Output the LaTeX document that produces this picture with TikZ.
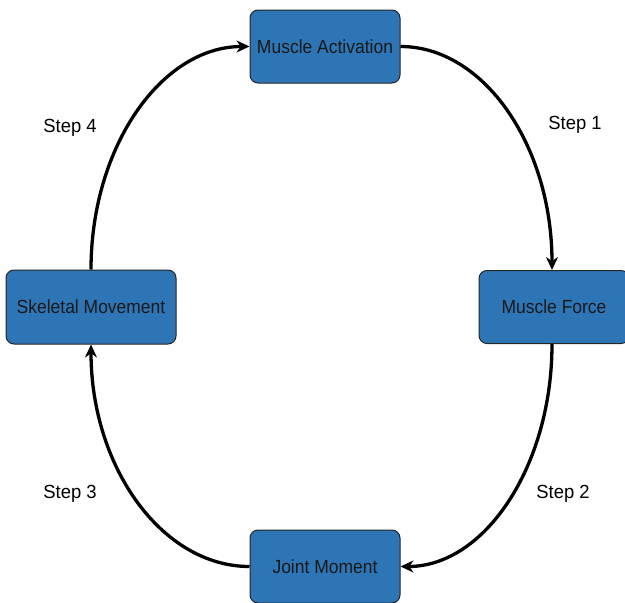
\documentclass[tikz,border=0pt]{standalone}
\usepackage{fontspec}
\setmainfont{Liberation Sans}
\usetikzlibrary{arrows.meta}
\definecolor{boxblue}{HTML}{2E75B6}
\begin{document}
\begin{tikzpicture}[x=1pt,y=-1pt,
  box/.style={draw=black!85, line width=1pt, fill=boxblue, rounded corners=8pt, inner sep=0pt, font=\fontsize{19}{22}\selectfont\addfontfeatures{FakeStretch=0.92}, text=black!90},
  conn/.style={line width=3.3pt, -{Stealth[length=13pt,width=12pt]}},
  lbl/.style={font=\fontsize{19}{22}\selectfont\addfontfeatures{FakeStretch=0.97}, inner sep=0pt}]
\useasboundingbox (0,0) rectangle (625,603);
\clip (0,0) rectangle (625,603);
\node[box, minimum width=150pt, minimum height=73pt] (act) at (325,46.5) {Muscle Activation};
\node[box, minimum width=150pt, minimum height=73pt] (force) at (554,307) {Muscle Force};
\node[box, minimum width=150pt, minimum height=73pt] (joint) at (325,566.5) {Joint Moment};
\node[box, minimum width=170pt, minimum height=74pt] (skel) at (91,307) {Skeletal Movement};
\coordinate (fn) at (552,270);
\coordinate (fs) at (552,344);
\draw[conn] (act.east) .. controls (484,46.5) and (552,146) .. (fn);
\draw[conn] (fs) .. controls (552,467) and (484,566.5) .. (joint.east);
\draw[conn] (joint.west) .. controls (162,566.5) and (91,467) .. (skel.south);
\draw[conn] (skel.north) .. controls (91,146) and (162,46.5) .. (act.west);
\node[lbl] (s1) at (575,125) {Step 1};
\node[lbl] (s2) at (563,494) {Step 2};
\node[lbl] (s3) at (70,494) {Step 3};
\node[lbl] (s4) at (70,128) {Step 4};
\end{tikzpicture}
\end{document}
